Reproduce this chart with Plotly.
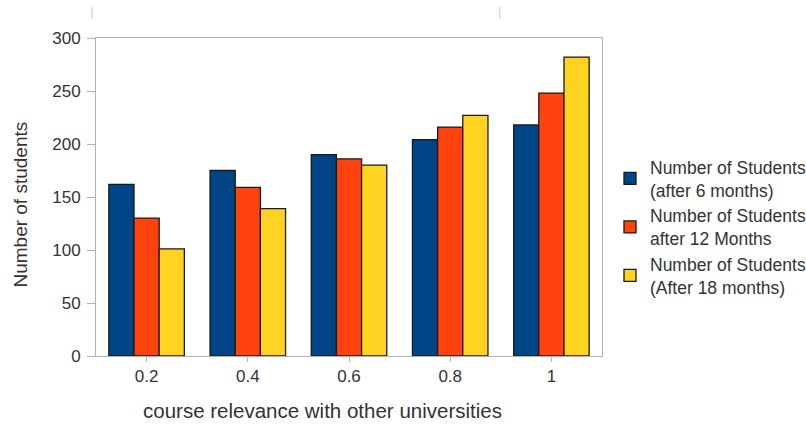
import plotly.graph_objects as go

categories = ["0.2", "0.4", "0.6", "0.8", "1"]
after_6 = [162, 175, 190, 204, 218]
after_12 = [130, 159, 186, 216, 248]
after_18 = [101, 139, 180, 227, 282]

series_names = [
    "Number of Students<br>(after 6 months)",
    "Number of Students<br>after 12 Months",
    "Number of Students<br>(After 18 months)",
]
colors = ["#004586", "#ff420e", "#ffd320"]
x_title = "course relevance with other universities"
y_title = "Number of students"

fig = go.Figure()
for name, vals, col in zip(series_names, [after_6, after_12, after_18], colors):
    fig.add_trace(go.Bar(
        x=categories, y=vals, name=name,
        marker=dict(color=col, line=dict(color="#1a1a1a", width=1.3)),
    ))

font_family = "Liberation Sans, Arial, sans-serif"
fig.update_layout(
    width=806, height=425,
    margin=dict(l=96, r=204, t=38, b=69, autoexpand=False),
    paper_bgcolor="white", plot_bgcolor="white",
    barmode="group", bargap=0.254, bargroupgap=0,
    font=dict(family=font_family, size=17, color="#333"),
    showlegend=True,
    legend=dict(
        x=1.0158, xanchor="left", y=0.405, yanchor="middle",
        font=dict(size=17.5, color="#333"),
        bgcolor="rgba(0,0,0,0)", itemwidth=30,
    ),
    xaxis=dict(
        type="category",
        showline=True, linecolor="#b3b3b3", linewidth=1, mirror=True,
        ticks="outside", ticklen=5, tickcolor="#b3b3b3",
        showgrid=False, tickfont=dict(size=17),
    ),
    yaxis=dict(
        range=[0, 300], dtick=50,
        showline=True, linecolor="#b3b3b3", linewidth=1, mirror=True,
        ticks="outside", ticklen=8, tickcolor="#b3b3b3", ticklabelstandoff=3,
        showgrid=False, zeroline=False, tickfont=dict(size=17),
    ),
    annotations=[
        dict(text=x_title, xref="paper", yref="paper", x=0.4476, y=-0.170,
             xanchor="center", yanchor="middle", showarrow=False,
             font=dict(size=20.5, color="#333")),
        dict(text=y_title, xref="paper", yref="paper", x=-0.149, y=0.475,
             xanchor="center", yanchor="middle", showarrow=False, textangle=-90,
             font=dict(size=19, color="#333")),
    ],
    shapes=[
        dict(type="line", xref="paper", yref="paper", x0=-0.0079, x1=-0.0079, y0=1.06, y1=1.097,
             line=dict(color="#c8c8c8", width=1)),
        dict(type="line", xref="paper", yref="paper", x0=0.798, x1=0.798, y0=1.06, y1=1.097,
             line=dict(color="#c8c8c8", width=1)),
    ],
)

fig.write_html(
    "out.html",
    config={"displayModeBar": False},
    post_script="document.body.style.margin='0';document.body.style.overflow='hidden';",
)
